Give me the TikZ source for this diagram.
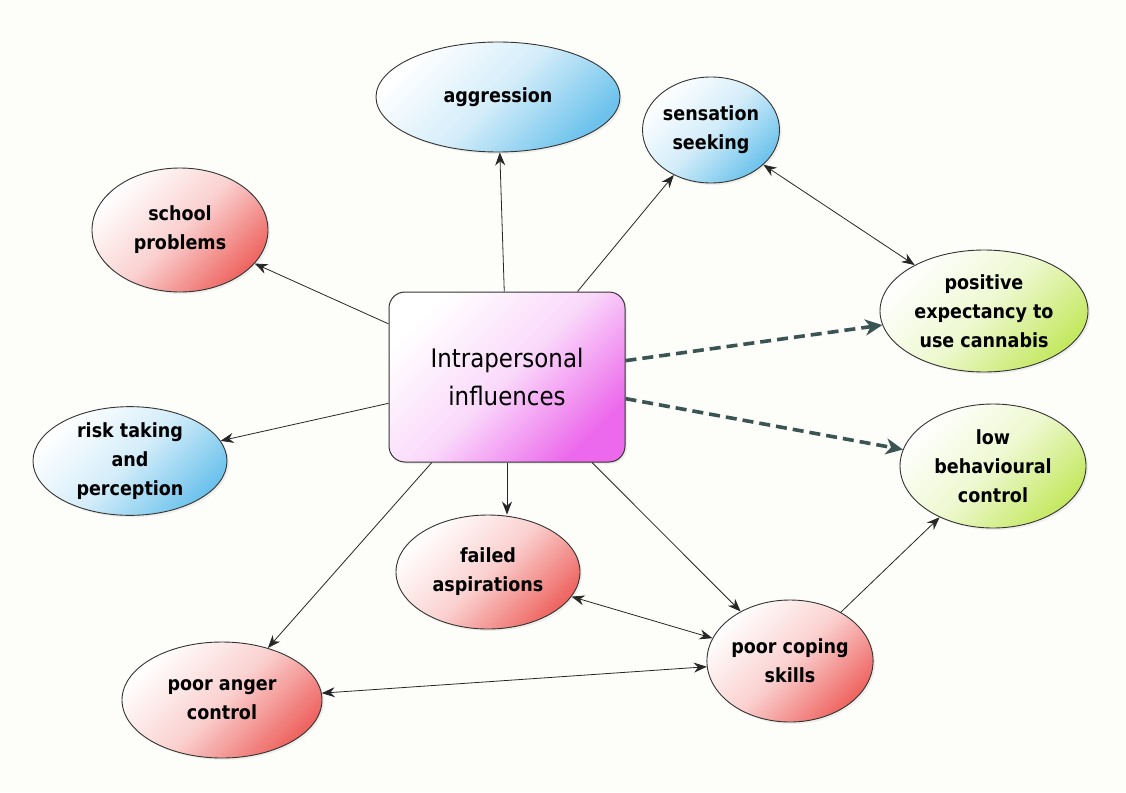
\documentclass[tikz,border=0pt]{standalone}
\usepackage{fontspec}
\usetikzlibrary{shapes.geometric,arrows.meta,shadows,calc}
\newfontfamily\lblfont{DejaVu Sans Condensed}
\definecolor{bgcol}{RGB}{253,253,249}
\definecolor{bluec}{RGB}{108,194,236}
\definecolor{redc}{RGB}{238,100,96}
\definecolor{greenc}{RGB}{196,232,96}
\definecolor{pinkc}{RGB}{236,104,236}
\definecolor{dashc}{RGB}{58,84,84}
\tikzset{
  bubble/.style={ellipse, draw=black!80, line width=0.9pt, align=center, inner sep=0pt,
    font=\lblfont\bfseries\fontsize{19.5}{29}\selectfont,
    drop shadow={opacity=0.12, shadow xshift=2pt, shadow yshift=-2pt}},
  bluefill/.style={top color=white, bottom color=bluec, middle color=bluec!30, shading angle=45},
  redfill/.style={top color=white, bottom color=redc, middle color=redc!30, shading angle=45},
  greenfill/.style={top color=white, bottom color=greenc, middle color=greenc!30, shading angle=45},
  link/.style={draw=black!85, line width=0.8pt, -{Stealth[length=13pt,width=10pt]}},
  twoway/.style={draw=black!85, line width=0.8pt, {Stealth[length=13pt,width=10pt]}-{Stealth[length=13pt,width=10pt]}},
  strong/.style={draw=dashc, line width=3.6pt, dash pattern=on 11pt off 6pt,
    -{Stealth[length=17pt,width=16pt,inset=5pt]}},
}
\begin{document}
\begin{tikzpicture}[x=1pt,y=-1pt]
\path[fill=bgcol,use as bounding box] (0,0) rectangle (1126,792);

% central box
\node[rectangle, rounded corners=16pt, draw=black!80, line width=1pt,
  minimum width=236pt, minimum height=170pt, align=center,
  top color=white, bottom color=pinkc, middle color=pinkc!25, shading angle=45,
  drop shadow={opacity=0.12, shadow xshift=2pt, shadow yshift=-2pt},
  font=\lblfont\fontsize{25.5}{38}\selectfont] (ctr) at (507,377) {Intrapersonal\\influences};

% surrounding factors
\node[bubble, bluefill, minimum width=244pt, minimum height=110pt] (agg) at (498,97) {aggression};
\node[bubble, bluefill, minimum width=137pt, minimum height=106pt] (sens) at (711,130) {sensation\\seeking};
\node[bubble, redfill, minimum width=176pt, minimum height=124pt] (school) at (180,230) {school\\problems};
\node[bubble, greenfill, minimum width=208pt, minimum height=122pt] (pos) at (984,311) {positive\\expectancy to\\use cannabis};
\node[bubble, bluefill, minimum width=194pt, minimum height=106pt] (risk) at (130,461) {risk taking\\and\\perception};
\node[bubble, greenfill, minimum width=186pt, minimum height=124pt] (low) at (993,466) {low\\behavioural\\control};
\node[bubble, redfill, minimum width=184pt, minimum height=114pt] (fail) at (488,572) {failed\\aspirations};
\node[bubble, redfill, minimum width=166pt, minimum height=122pt] (cope) at (790,661) {poor coping\\skills};
\node[bubble, redfill, minimum width=200pt, minimum height=116pt] (anger) at (222,700) {poor anger\\control};

% influences from the centre
\draw[link] (ctr) -- (agg);
\draw[link] (ctr) -- (sens);
\draw[link] (ctr) -- (school);
\draw[link] (ctr) -- (risk);
\draw[link] (ctr.south) -- (fail.north -| ctr.south);
\draw[link] (ctr) -- (anger);
\draw[link] (ctr) -- (cope);
\draw[strong] (ctr) -- (pos);
\draw[strong] (ctr) -- (low);

% links between factors
\draw[twoway] (sens) -- (pos);
\draw[twoway] (fail) -- (cope);
\draw[twoway] (anger) -- (cope);
\draw[link] (cope) -- (low);
\end{tikzpicture}
\end{document}
